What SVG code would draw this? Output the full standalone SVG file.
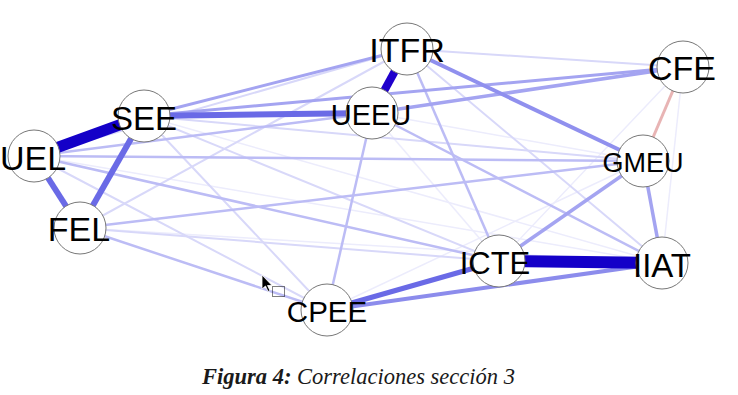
<svg xmlns="http://www.w3.org/2000/svg" width="738" height="395" viewBox="0 0 738 395">
<style>
.vf{stroke:#ececfc;stroke-width:1.5;fill:none}
.f{stroke:#d8d8f9;stroke-width:2;fill:none}
.l{stroke:#bcbcf5;stroke-width:2.5;fill:none}
.ml{stroke:#a4a4f1;stroke-width:3.5;fill:none}
.m{stroke:#6a6ae6;stroke-width:6;fill:none}
.s{stroke:#1400c8;fill:none}
.neg{stroke:#e8b4b4;stroke-width:3;fill:none}
.node circle{fill:#ffffff;stroke:#777777;stroke-width:1}
.node text{font-family:"Liberation Sans",Arial,sans-serif;fill:#000000;text-anchor:middle}
.cap{font-family:"Liberation Serif","Times New Roman",serif;font-style:italic;font-size:22.5px;fill:#1a1a1a}
</style>
<rect width="738" height="395" fill="#ffffff"/>
<g id="edges">
<line class="vf" x1="683" y1="67" x2="662" y2="263"/>
<line class="vf" x1="34" y1="156" x2="662" y2="263"/>
<line class="vf" x1="80" y1="228" x2="662" y2="263"/>
<line class="vf" x1="372" y1="113" x2="499" y2="261"/>
<line class="vf" x1="683" y1="67" x2="499" y2="261"/>
<line class="vf" x1="643" y1="161" x2="327" y2="310"/>
<line class="vf" x1="144" y1="116" x2="662" y2="263"/>
<line class="vf" x1="372" y1="113" x2="643" y2="161"/>
<line class="f" x1="407" y1="49" x2="683" y2="67"/>
<line class="f" x1="144" y1="116" x2="327" y2="310"/>
<line class="f" x1="34" y1="156" x2="327" y2="310"/>
<line class="f" x1="80" y1="228" x2="499" y2="261"/>
<line class="f" x1="407" y1="49" x2="662" y2="263"/>
<line class="f" x1="80" y1="228" x2="407" y2="49"/>
<line class="f" x1="144" y1="116" x2="643" y2="161"/>
<line class="f" x1="144" y1="116" x2="499" y2="261"/>
<line class="f" x1="34" y1="156" x2="407" y2="49"/>
<line class="l" x1="34" y1="156" x2="372" y2="113"/>
<line class="l" x1="34" y1="156" x2="499" y2="261"/>
<line class="l" x1="80" y1="228" x2="643" y2="161"/>
<line class="l" x1="80" y1="228" x2="327" y2="310"/>
<line class="l" x1="372" y1="113" x2="662" y2="263"/>
<line class="l" x1="34" y1="156" x2="643" y2="161"/>
<line class="l" x1="372" y1="113" x2="327" y2="310"/>
<line class="l" x1="407" y1="49" x2="499" y2="261"/>
<line class="ml" x1="144" y1="116" x2="407" y2="49" style="stroke-width:3"/>
<line class="ml" x1="144" y1="116" x2="683" y2="67" style="stroke-width:3"/>
<line class="ml" x1="372" y1="113" x2="683" y2="67"/>
<line class="ml" x1="407" y1="49" x2="643" y2="161" style="stroke:#9090ee;stroke-width:4"/>
<line class="ml" x1="643" y1="161" x2="499" y2="261"/>
<line class="ml" x1="643" y1="161" x2="662" y2="263"/>
<line class="ml" x1="327" y1="310" x2="662" y2="263" style="stroke:#8c8cec;stroke-width:4"/>
<line class="neg" x1="683" y1="67" x2="643" y2="161"/>
<line class="m" x1="144" y1="116" x2="372" y2="113"/>
<line class="m" x1="34" y1="156" x2="80" y2="228"/>
<line class="m" x1="144" y1="116" x2="80" y2="228"/>
<line class="m" x1="327" y1="310" x2="499" y2="261" style="stroke-width:5"/>
<line class="s" x1="407" y1="49" x2="372" y2="113" style="stroke:#2000cc;stroke-width:8"/>
<line class="s" x1="34" y1="156" x2="144" y2="116" style="stroke-width:11"/>
<line class="s" x1="499" y1="261" x2="662" y2="263" style="stroke-width:12"/>
</g>
<g id="node-ITFR" class="node"><circle cx="407" cy="49" r="26"/><text x="407" y="62" font-size="34">ITFR</text></g>
<g id="node-CFE" class="node"><circle cx="683" cy="67" r="26"/><text x="682" y="80" font-size="34">CFE</text></g>
<g id="node-SEE" class="node"><circle cx="144" cy="116" r="26"/><text x="144" y="130" font-size="33">SEE</text></g>
<g id="node-UEEU" class="node"><circle cx="372" cy="113" r="26"/><text x="371" y="125" font-size="29">UEEU</text></g>
<g id="node-UEL" class="node"><circle cx="34" cy="156" r="26"/><text x="33" y="170" font-size="34">UEL</text></g>
<g id="node-GMEU" class="node"><circle cx="643" cy="161" r="26"/><text x="643" y="172" font-size="27">GMEU</text></g>
<g id="node-FEL" class="node"><circle cx="80" cy="228" r="26"/><text x="79" y="241" font-size="34">FEL</text></g>
<g id="node-ICTE" class="node"><circle cx="499" cy="261" r="26"/><text x="495" y="274" font-size="31">ICTE</text></g>
<g id="node-IIAT" class="node"><circle cx="662" cy="263" r="26"/><text x="662" y="277" font-size="33">IIAT</text></g>
<g id="node-CPEE" class="node"><circle cx="327" cy="310" r="26"/><text x="327" y="322" font-size="29.5">CPEE</text></g>
<g id="cursor">
<polygon points="262,275 262,289 265.5,286 268,291.5 270,290.5 267.5,285.5 272,285.5" fill="#000000" stroke="#ffffff" stroke-width="0.8"/>
<rect x="272.5" y="286.5" width="12" height="10" fill="none" stroke="#000000" stroke-width="1" stroke-dasharray="1,1"/>
</g>
<text class="cap" x="202" y="384"><tspan font-weight="bold">Figura 4:</tspan> Correlaciones sección 3</text>
</svg>
